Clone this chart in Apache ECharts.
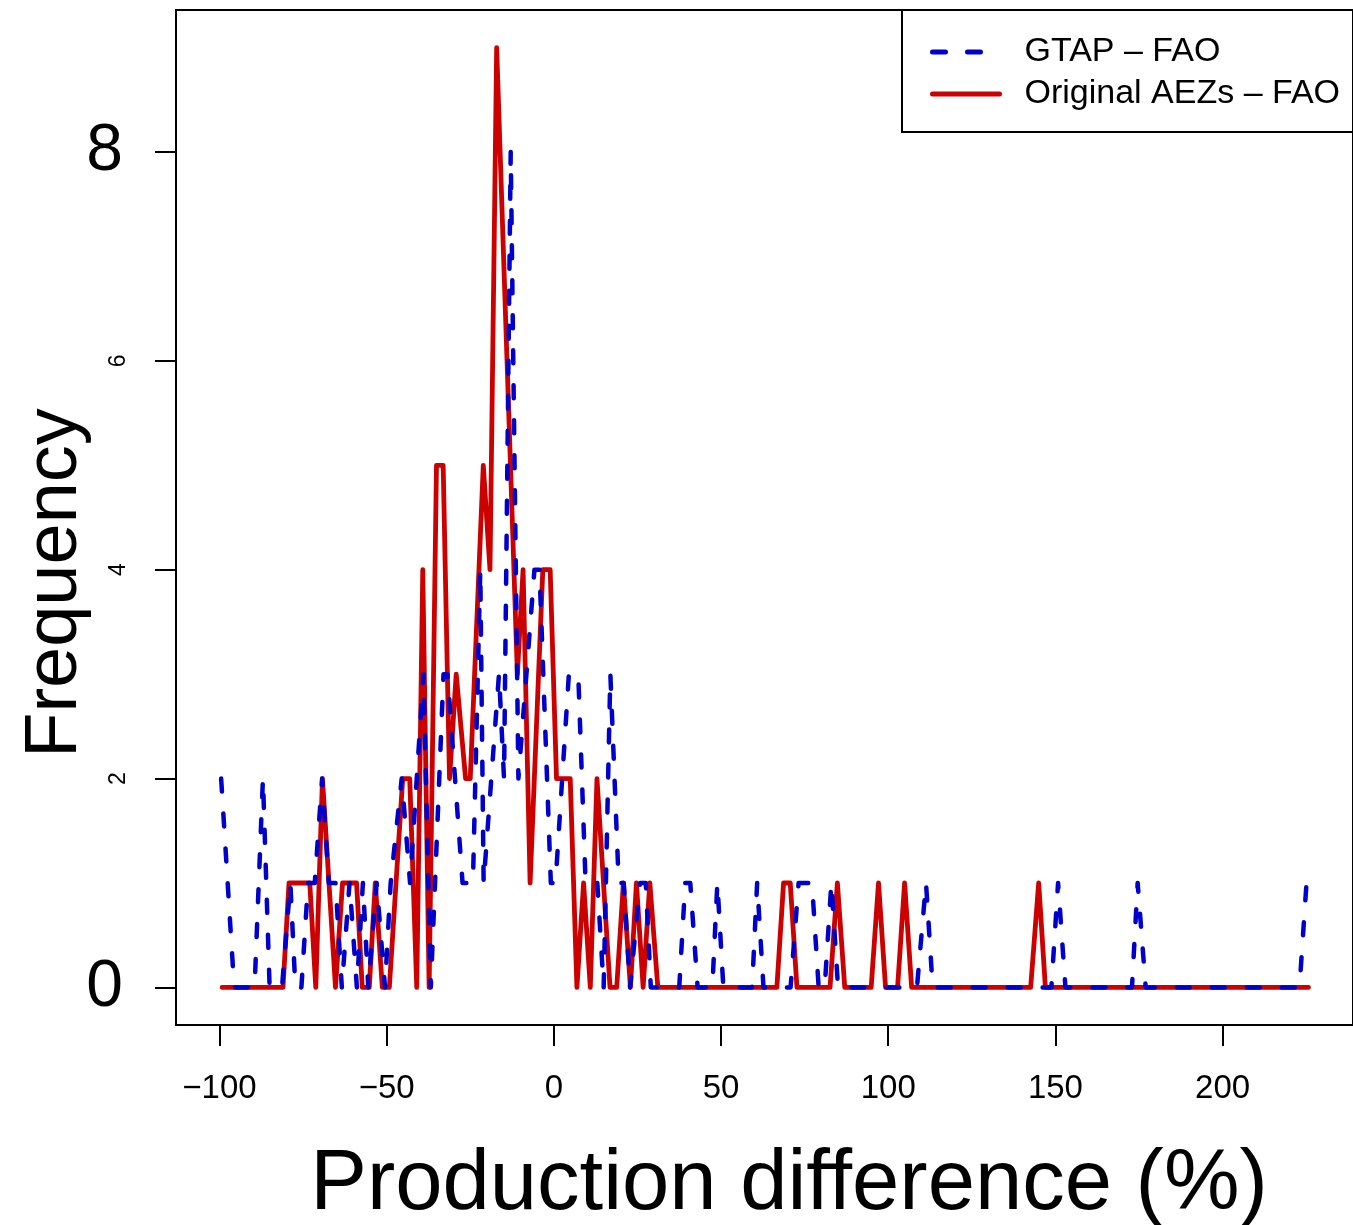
<!DOCTYPE html>
<html>
<head>
<meta charset="utf-8">
<script src="https://cdn.jsdelivr.net/npm/echarts@6.0.0/dist/echarts.min.js"></script>
<style>
  html, body { margin: 0; padding: 0; background: #fff; }
  #chart { width: 1353px; height: 1225px; }
</style>
</head>
<body>
<div id="chart"></div>
<script>
// ---- data (production difference %, frequency) ----
const redName = 'Original AEZs \u2013 FAO';
const blueName = 'GTAP \u2013 FAO';

const redX = [-99.2,-81,-79.2,-73,-71.2,-69.2,-65.3,-63.2,-59,-57.3,-55.2,-53.4,-51.3,-49.2,-45.2,-43.1,-41,-39.2,-37.3,-35.1,-33.1,-31.2,-29.2,-26.4,-25,-21.1,-19.1,-17.1,-10.9,-9.2,-7.1,-3.3,-1.1,0.8,4.9,6.9,8.9,10.9,12.9,16.8,18.8,20.8,22.9,24.7,26.7,28.7,31.1,66.7,68.7,70.7,72.7,82.6,84.8,87,94.9,97.1,99.2,102.8,104.9,107,142.6,145,147,225.7];
const redY = [0,0,1,1,0,2,0,1,1,0,0,1,0,0,2,2,0,4,0,5,5,2,3,2,2,5,4,9,3,4,1,4,4,2,2,0,1,0,2,0,0,1,0,1,0,1,0,0,1,1,0,0,1,0,0,1,0,0,1,0,0,1,0,0];

const blueX = [-99.5,-95.6,-89.5,-87,-85,-81.3,-78.8,-77.3,-75.5,-73.5,-71.5,-69.3,-67.3,-65.3,-63.4,-61.1,-58.9,-57.1,-55.5,-53,-50.5,-48.8,-45.5,-43,-39,-36.8,-33,-31.8,-27.3,-24.2,-22,-21,-16.4,-14.9,-12.9,-10.6,-5.8,-4.3,-0.9,0.5,4.5,7.3,9.5,13,14.9,16.9,19.4,20.9,22.8,25.8,27.5,29,37.5,39.3,40.8,43,47.4,48.9,50.7,59.3,60.8,62.7,70.8,73.2,77.2,79.2,81,83,85,108.6,111.3,113.3,148.8,150.8,153,172.9,174.6,177,223,225.1];
const blueY = [2,0,0,2,0,0,1,0,0,1,1,2,1,1,0,1,0,1,0,1,0,1,2,1,3,0,3,3,1,1,4,1,3,2,8,2,4,4,1,1,3,3,1,1,0,3,1,1,0,1,1,0,0,1,1,0,0,1,0,0,1,0,0,1,1,0,0,1,0,0,1,0,0,1,0,0,1,0,0,1];

const xTicks = [-100, -50, 0, 50, 100, 150, 200];
const yTicks = [0, 2, 4, 6, 8];
const yBigLabels = [0, 8];
const ySmallLabels = [2, 4, 6];

const xTitle = 'Production difference (%)';
const yTitle = 'Frequency';

// ---- chart ----
const FONT = '"Liberation Sans", Arial, Helvetica, sans-serif';
const chart = echarts.init(document.getElementById('chart'), null, { renderer: 'canvas' });

const redData = redX.map((x, i) => [x, redY[i]]);
const blueData = blueX.map((x, i) => [x, blueY[i]]);

const option = {
  animation: false,
  backgroundColor: '#ffffff',
  textStyle: { fontFamily: FONT },
  grid: {
    show: true,
    left: 176, top: 10, width: 1185, height: 1015,
    borderColor: '#000', borderWidth: 2,
    backgroundColor: 'transparent'
  },
  xAxis: {
    type: 'value',
    min: -113, max: 239,
    axisLine: { show: false, onZero: false },
    splitLine: { show: false },
    axisTick: { show: true, inside: false, length: 21, lineStyle: { color: '#000', width: 2 }, customValues: xTicks },
    axisLabel: {
      customValues: xTicks,
      formatter: v => (v < 0 ? '\u2212' + Math.abs(v) : String(v)),
      fontSize: 33, color: '#000', fontFamily: FONT, margin: 47
    }
  },
  yAxis: [
    {
      type: 'value',
      min: -0.36, max: 9.36,
      axisLine: { show: false, onZero: false },
      splitLine: { show: false },
      axisTick: { show: true, inside: false, length: 21, lineStyle: { color: '#000', width: 2 }, customValues: yTicks },
      axisLabel: { customValues: yBigLabels, fontSize: 66, color: '#000', fontFamily: FONT, margin: 53 }
    },
    {
      type: 'value',
      position: 'left',
      min: -0.36, max: 9.36,
      axisLine: { show: false, onZero: false },
      splitLine: { show: false },
      axisTick: { show: false },
      axisLabel: { customValues: ySmallLabels, rotate: 90, fontSize: 23, color: '#000', fontFamily: FONT, margin: 46 }
    }
  ],
  legend: {
    data: [blueName, redName],
    orient: 'vertical',
    left: 902, top: 10,
    itemWidth: 67, itemHeight: 30, itemGap: 8,
    padding: [25, 45, 21, 28],
    borderColor: '#000', borderWidth: 2, borderRadius: 0,
    selectedMode: false,
    itemStyle: { opacity: 0 },
    lineStyle: { width: 5 },
    textStyle: { fontSize: 34, lineHeight: 30, color: '#000', fontFamily: FONT, padding: [0, 0, 0, 20] }
  },
  graphic: [
    {
      type: 'text',
      x: 789, y: 1186,
      style: { text: xTitle, font: '85px ' + FONT, fill: '#000', align: 'center', verticalAlign: 'middle' }
    },
    {
      type: 'text',
      x: 56, y: 583, rotation: Math.PI / 2,
      style: { text: yTitle, font: '74px ' + FONT, fill: '#000', align: 'center', verticalAlign: 'middle' }
    }
  ],
  series: [
    {
      name: redName, type: 'line', data: redData, symbol: 'none',
      itemStyle: { color: '#CD0000' },
      lineStyle: { color: '#CD0000', width: 4.8, cap: 'round', join: 'round' }
    },
    {
      name: blueName, type: 'line', data: blueData, symbol: 'none',
      itemStyle: { color: '#0000CD' },
      lineStyle: { color: '#0000CD', width: 4.5, type: [13, 22], cap: 'round', join: 'round' }
    }
  ]
};
chart.setOption(option);
</script>
</body>
</html>
